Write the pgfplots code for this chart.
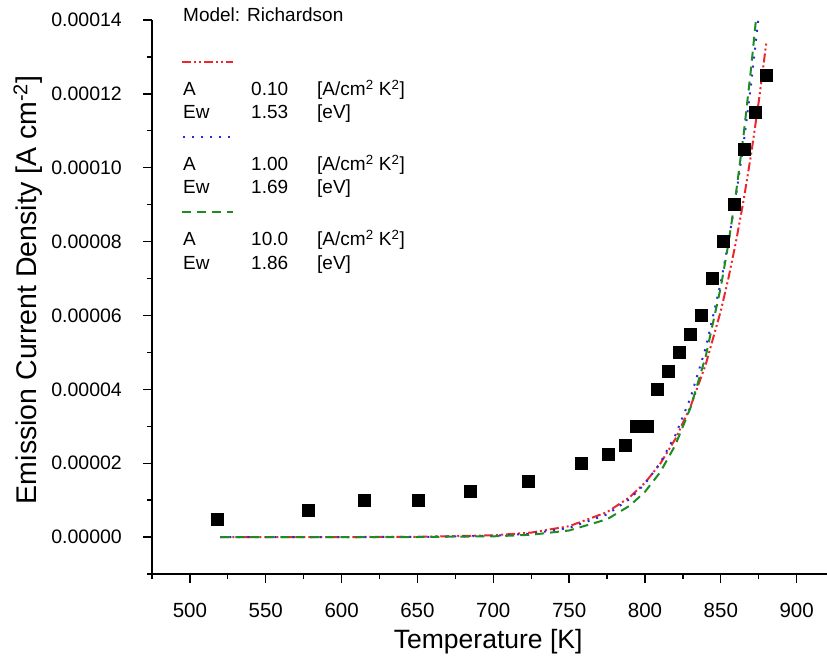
\documentclass[border=0pt]{standalone}
\usepackage{pgfplots}
\pgfplotsset{compat=1.18}
\usepackage{pgfplotstable}
\usepackage{fontspec}
\setmainfont{Liberation Sans}

\definecolor{cred}{RGB}{235,40,45}
\definecolor{cblue}{RGB}{40,40,225}
\definecolor{cgreen}{RGB}{30,140,35}

\pgfplotstableread{
T J
517.8 0.0000049
577.7 0.0000073
614.6 0.0000100
650.2 0.0000100
685.1 0.0000125
722.7 0.0000152
758.2 0.0000200
776.0 0.0000225
787.2 0.0000250
794.5 0.0000300
801.7 0.0000300
808.3 0.0000400
815.5 0.0000450
822.8 0.0000500
830.0 0.0000550
837.3 0.0000600
844.5 0.0000700
851.8 0.0000800
859.0 0.0000900
865.6 0.0001050
872.9 0.0001150
880.1 0.0001250
}\measured

\pgfplotstableread{
T J
520 0
550 0.0000000003
600 0.000000005
650 0.000000058
700 0.000000473
725 0.000001216
750 0.000002944
775 0.00000675
790 0.00001083
800 0.00001471
810 0.00001983
820 0.00002655
830 0.00003532
840 0.00004666
850 0.00006127
855 0.00007005
860 0.00007997
865 0.00009115
870 0.00010375
875 0.0001179
880 0.00013386
}\redcurve

\pgfplotstableread{
T J
520 0
550 0.0000000001
600 0.0000000023
650 0.0000000333
700 0.0000003333
725 0.000000939
750 0.000002476
775 0.000006146
790 0.000010327
800 0.00001444
810 0.00002004
820 0.00002759
830 0.00003771
840 0.00005118
850 0.00006896
855 0.00007986
860 0.00009232
865 0.00010655
870 0.00012277
875 0.00014126
}\bluecurve

\pgfplotstableread{
T J
520 0
550 0
600 0.00000000086
650 0.000000016
700 0.000000199
725 0.000000618
750 0.000001784
775 0.000004821
790 0.0000085
800 0.000012265
810 0.00001754
820 0.00002489
830 0.00003501
840 0.00004887
850 0.00006771
855 0.00007947
860 0.00009312
865 0.0001089
870 0.00012714
873 0.00013943
}\greencurve

\begin{document}
\begin{tikzpicture}
\begin{axis}[
  width=675pt, height=554pt, scale only axis,
  xmin=475, xmax=920, ymin=-0.00001, ymax=0.00014,
  axis x line*=bottom, axis y line*=left,
  axis line style={line width=1.3pt, black},
  xtick={500,550,...,900},
  minor xtick={475,525,...,875},
  ytick={0,0.00002,0.00004,0.00006,0.00008,0.0001,0.00012,0.00014},
  yticklabels={0.00000,0.00002,0.00004,0.00006,0.00008,0.00010,0.00012,0.00014},
  minor ytick={-0.00001,0.00001,0.00003,0.00005,0.00007,0.00009,0.00011,0.00013},
  scaled y ticks=false,
  tick align=outside,
  major tick length=9pt, minor tick length=5pt,
  every tick/.style={line width=1.3pt, black},
  /pgf/number format/assume math mode=true,
  yticklabel style={font=\fontsize{19.5}{22}\selectfont, inner sep=0pt, xshift=-21pt},
  xticklabel style={font=\fontsize{20.5}{23}\selectfont, inner sep=0pt, yshift=-20pt},
  every axis x label/.style={at={(axis description cs:0.498,-0.1227)}, anchor=center, font=\fontsize{26.5}{30}\selectfont},
  every axis y label/.style={at={(axis description cs:-0.1837,0.513)}, rotate=90, anchor=center, font=\fontsize{28.5}{32}\selectfont},
  xlabel={Temperature [K]},
  ylabel={Emission Current Density [A cm\textsuperscript{-2}]},
  clip=false,
]
\addplot[only marks, mark=square*, mark size=6pt, black] table[x=T,y=J] {\measured};
\addplot[cred, line width=2pt, dash pattern=on 9pt off 3pt on 2pt off 3pt on 2pt off 3pt] table[x=T,y=J] {\redcurve};
\addplot[cblue, line width=2pt, dash pattern=on 2pt off 7pt] table[x=T,y=J] {\bluecurve};
\addplot[cgreen, line width=2pt, dash pattern=on 9pt off 6pt] table[x=T,y=J] {\greencurve};
\coordinate (O) at (rel axis cs:0,1);
\coordinate (LL) at (rel axis cs:0,0);
\coordinate (UR) at (rel axis cs:1,1);
\end{axis}
\begin{scope}[every node/.style={anchor=west, inner sep=0pt, text height=13.6pt, text depth=0pt, font=\fontsize{19}{22}\selectfont}]
\node at ([shift={(31pt,5pt)}]O) {Model: Richardson};
\draw[cred, line width=2pt, dash pattern=on 9pt off 3pt on 2pt off 3pt on 2pt off 3pt] ([shift={(30pt,-42pt)}]O) -- ([shift={(81pt,-42pt)}]O);
\node at ([shift={(31pt,-69pt)}]O) {A};
\node at ([shift={(99pt,-69pt)}]O) {0.10};
\node at ([shift={(165pt,-69pt)}]O) {[A/cm\textsuperscript{2} K\textsuperscript{2}]};
\node at ([shift={(31pt,-92pt)}]O) {Ew};
\node at ([shift={(99pt,-92pt)}]O) {1.53};
\node at ([shift={(165pt,-92pt)}]O) {[eV]};
\draw[cblue, line width=2pt, dash pattern=on 2pt off 7pt] ([shift={(31pt,-117pt)}]O) -- ([shift={(81pt,-117pt)}]O);
\node at ([shift={(31pt,-144pt)}]O) {A};
\node at ([shift={(99pt,-144pt)}]O) {1.00};
\node at ([shift={(165pt,-144pt)}]O) {[A/cm\textsuperscript{2} K\textsuperscript{2}]};
\node at ([shift={(31pt,-167pt)}]O) {Ew};
\node at ([shift={(99pt,-167pt)}]O) {1.69};
\node at ([shift={(165pt,-167pt)}]O) {[eV]};
\draw[cgreen, line width=2pt, dash pattern=on 9pt off 6pt] ([shift={(30pt,-192pt)}]O) -- ([shift={(81pt,-192pt)}]O);
\node at ([shift={(31pt,-219pt)}]O) {A};
\node at ([shift={(99pt,-219pt)}]O) {10.0};
\node at ([shift={(165pt,-219pt)}]O) {[A/cm\textsuperscript{2} K\textsuperscript{2}]};
\node at ([shift={(31pt,-243pt)}]O) {Ew};
\node at ([shift={(99pt,-243pt)}]O) {1.86};
\node at ([shift={(165pt,-243pt)}]O) {[eV]};
\end{scope}
\pgfresetboundingbox
\path ([shift={(-152pt,-87pt)}]LL) rectangle ([shift={(0pt,20pt)}]UR);
\end{tikzpicture}
\end{document}
